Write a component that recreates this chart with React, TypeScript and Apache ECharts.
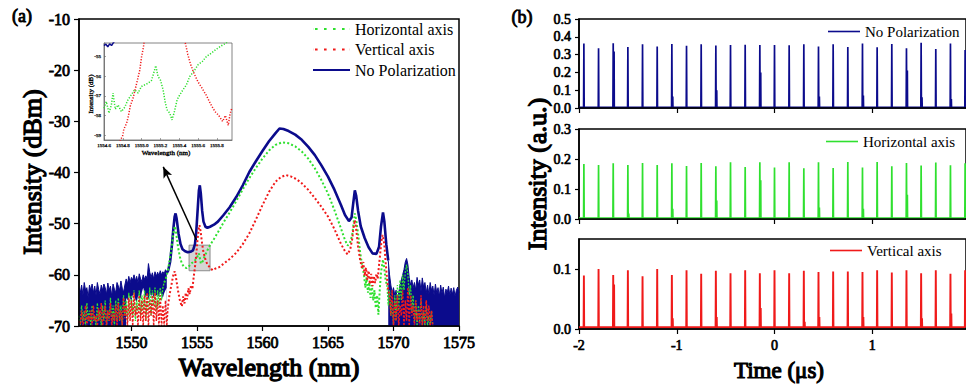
import React, { useEffect, useRef } from "react";
import * as echarts from "echarts";

const FONT = "Liberation Serif, serif";
const BLUE = "#0b0b8c";
const GREEN = "#2fe02f";
const RED = "#f01a1a";

// ---------- panel (a): optical spectrum ----------
const wavelengthTicks = [1550, 1555, 1560, 1565, 1570, 1575];
const noiseStep = 0.1; // nm between noisy OSA samples

const blueLeftStart = 1546.0;
const blueLeftUpper = [
  -62.5, -63.5, -62, -64, -61.5, -63, -62.5, -64.5, -62, -63,
  -61.8, -63.5, -62.2, -64, -61.5, -62.8, -63.8, -62, -63, -61.8,
  -62.5, -63.8, -61.6, -63, -62.2, -64.2, -61.8, -62.8, -63.5, -61.5,
  -62.2, -63, -61.2, -62.6, -63.4, -62, -60.8, -61.8, -60.3, -61.5,
  -60.5, -61, -60, -61.2, -60.3, -61.5, -59.8, -60.8, -61.3, -60,
  -60.9, -60.2, -60.8, -57.8, -59.5, -60.5, -59.6, -60.8, -59.4, -60.3,
  -59.5, -60.2, -59.2, -60, -59.4, -59.8, -59, -59.6,
];
const blueLowerStart = 1549.6;
const blueLeftLower = [
  -64.5, -65, -63.8, -64.6, -65.2, -64, -63.6, -64.8, -65.4, -64.2,
  -63.9, -64.7, -63.4, -62.5, -63.6, -64.5, -63.8, -64.9, -63.5, -64.2,
  -63.7, -64.6, -63.4, -64.1, -63.8, -64.4, -63.2, -63.9, -64.5, -63.6, -63, -62.5,
];
const blueRightStart = 1569.6;
const blueRightUpper = [
  -57.2, -60, -62, -63.5, -62.5, -64, -63, -65, -63.5, -62,
  -61, -60, -59, -57.5, -56.8, -58, -60.5, -62, -61, -62.5,
  -61.5, -63, -60.5, -62, -61, -63.2, -60.6, -62.4, -61.5, -63.5,
  -62, -63.8, -61.5, -63, -62.2, -64, -61.8, -63.5, -62.5, -64.2,
  -62, -63.6, -62.4, -64.5, -62.8, -63.5, -62.2, -64, -62.6, -63.8,
  -62.5, -64.2, -63, -62.4, -63.5,
];
const blueMain = [
  [1552.7, -59.6], [1552.8, -59.2], [1552.95, -57.5], [1553.1, -54], [1553.2, -51], [1553.3, -48.6], [1553.37, -48],
  [1553.45, -49], [1553.6, -52], [1553.75, -54], [1553.9, -55], [1554.1, -55.4], [1554.3, -55.6],
  [1554.5, -55.5], [1554.7, -55.2], [1554.85, -54], [1554.95, -51.5], [1555.05, -47.5], [1555.15, -43.5],
  [1555.22, -42.5], [1555.3, -44.2], [1555.4, -47.5], [1555.5, -49.6], [1555.65, -50.6], [1555.8, -50.8],
  [1556.0, -50.6], [1556.3, -50.2], [1556.6, -49.6], [1557.0, -48.4], [1557.5, -46.8], [1558.0, -44.8],
  [1558.5, -42.5], [1559.0, -39.9], [1559.5, -37.8], [1560.0, -35.8], [1560.5, -33.9], [1561.0, -32.3],
  [1561.3, -31.4], [1561.6, -31.5], [1562.0, -31.9], [1562.5, -32.6], [1563.0, -33.6], [1563.5, -35],
  [1564.0, -36.6], [1564.5, -38.6], [1565.0, -40.8], [1565.5, -43.4], [1566.0, -46.4], [1566.3, -48.3],
  [1566.6, -49.5], [1566.8, -48.8], [1566.93, -46], [1567.05, -43.5], [1567.15, -44.5], [1567.3, -47.5],
  [1567.5, -50.5], [1567.8, -52.8], [1568.1, -54.6], [1568.4, -55.8], [1568.7, -55.9], [1568.9, -54.5],
  [1569.05, -50.5], [1569.2, -47.8], [1569.3, -49.5], [1569.45, -54], [1569.6, -57.2],
];

const greenLeftStart = 1546.0;
const greenLeftNoise = [
  -68, -70, -66, -69, -67, -70, -65.5, -69, -67, -70,
  -66, -69, -68, -70, -65.5, -69, -67, -70, -66, -69,
  -65, -70, -67, -69, -64.5, -69, -66, -70, -65, -69,
  -64.5, -69, -66, -70, -64, -68, -65, -69, -63.5, -68,
  -64, -68, -63, -69, -65, -67, -63, -68, -64, -67,
  -63, -69, -64, -67, -62.5, -68, -63, -66, -62.5, -67,
  -63, -66, -62.5, -65, -62.5, -61.5,
];
const greenMain = [
  [1552.5, -61.5], [1552.6, -61], [1552.75, -59.5], [1552.9, -57.5], [1553.05, -55], [1553.2, -52], [1553.3, -50.5],
  [1553.4, -51.5], [1553.55, -54.5], [1553.7, -56.5], [1553.85, -57.8], [1554.0, -58.4], [1554.2, -58.7],
  [1554.4, -58.3], [1554.6, -57.7], [1554.8, -57.4], [1555.0, -56.6], [1555.15, -55.8], [1555.3, -57.8],
  [1555.45, -57.3], [1555.6, -56.3], [1555.8, -55.2], [1556.0, -54.2], [1556.3, -53], [1556.6, -51.7],
  [1557.0, -49.9], [1557.5, -47.8], [1558.0, -45.6], [1558.5, -43.3], [1559.0, -41.1], [1559.5, -39.1],
  [1560.0, -37.3], [1560.5, -35.7], [1561.0, -34.6], [1561.5, -34.1], [1562.0, -34.3], [1562.5, -34.9],
  [1563.0, -35.9], [1563.5, -37.3], [1564.0, -39.2], [1564.5, -41.5], [1565.0, -44.1], [1565.5, -47.4],
  [1566.0, -51], [1566.3, -53.2], [1566.5, -54.3], [1566.7, -53.6], [1566.85, -52.2], [1566.95, -50],
  [1567.05, -48], [1567.15, -49.2], [1567.3, -52], [1567.45, -55.5], [1567.6, -58], [1567.75, -60],
  [1567.85, -62.5], [1567.95, -60.5], [1568.05, -63.5], [1568.15, -61.5], [1568.25, -64.5], [1568.35, -62],
  [1568.45, -65], [1568.55, -63], [1568.65, -66.5], [1568.75, -64], [1568.85, -67.8], [1568.95, -63],
  [1569.05, -59.5], [1569.2, -57], [1569.3, -58.8], [1569.4, -61], [1569.5, -62],
];
const greenRightStart = 1569.5;
const greenRightNoise = [
  -62, -66, -63, -68, -65, -70, -64, -69, -62, -67,
  -61, -65, -60, -63, -59.5, -58, -60, -64, -62, -67,
  -64, -69, -65, -70, -66, -69, -65, -70, -67, -70,
  -66, -70, -68, -70, -67, -70,
];

const redLeftStart = 1546.0;
const redLeftNoise = [
  -69, -70, -67, -70, -68.5, -66, -70, -68, -69, -67,
  -70, -66, -69, -68, -70, -66.5, -69, -65.5, -70, -67.5,
  -66, -70, -67, -69, -65.5, -70, -67.5, -69, -66, -70,
  -65.5, -69, -67, -70, -64.5, -68.5, -66, -70, -64.5, -69,
  -65, -70, -63.5, -68, -66, -70, -64, -69, -65, -70,
  -64, -69, -63.5, -70, -65, -68, -64, -70, -63.5, -69,
  -65, -70, -64, -70, -66, -70, -65, -70, -66,
];
const redMain = [
  [1552.8, -66], [1552.9, -64], [1553.05, -62], [1553.2, -60], [1553.3, -59.3], [1553.4, -60.5], [1553.55, -63],
  [1553.7, -65], [1553.85, -66.2], [1553.95, -64.2], [1554.05, -65.6], [1554.15, -63.5], [1554.25, -64.8],
  [1554.35, -62.6], [1554.45, -63.8], [1554.55, -62], [1554.65, -62.8], [1554.75, -60.5], [1554.85, -58.5],
  [1554.95, -56], [1555.05, -53], [1555.15, -50.8], [1555.2, -50.3], [1555.28, -51.5], [1555.4, -54],
  [1555.5, -55.6], [1555.65, -57], [1555.8, -58], [1556.0, -58.6], [1556.2, -59.1], [1556.4, -58.8],
  [1556.7, -58.5], [1557.0, -57.9], [1557.5, -56.9], [1558.0, -55.7], [1558.5, -54], [1559.0, -51.9],
  [1559.5, -49.2], [1560.0, -46.4], [1560.5, -43.8], [1561.0, -41.8], [1561.4, -40.9], [1561.8, -40.5],
  [1562.2, -40.8], [1562.6, -41.3], [1563.0, -42.1], [1563.5, -43.4], [1564.0, -45], [1564.5, -46.7],
  [1565.0, -48.6], [1565.5, -51.1], [1566.0, -54], [1566.3, -55.4], [1566.5, -56], [1566.7, -55],
  [1566.85, -53], [1566.95, -50.8], [1567.05, -49.3], [1567.15, -51], [1567.3, -54.5], [1567.45, -57],
  [1567.6, -58.8], [1567.7, -57.5], [1567.8, -60.2], [1567.9, -58.6], [1568.0, -61], [1568.1, -59.2],
  [1568.2, -61.8], [1568.3, -59.8], [1568.4, -62.2], [1568.5, -60.2], [1568.6, -61.6], [1568.7, -59.8],
  [1568.8, -60.8], [1568.9, -58], [1569.0, -55.5], [1569.1, -53], [1569.17, -52.2], [1569.3, -54],
  [1569.4, -57.5], [1569.5, -60.5], [1569.6, -63], [1569.7, -64],
];
const redRightStart = 1569.7;
const redRightNoise = [
  -64, -68, -63, -70, -65, -69, -64, -70, -66, -68,
  -63, -70, -65, -69, -62.5, -70, -64, -68, -66, -70,
  -65, -69, -67, -70, -64, -70, -66, -70, -65, -69,
  -66, -70, -67, -70,
];

// inset (zoom of the shaded box)
const insetXTicks = [1554.6, 1554.8, 1555.0, 1555.2, 1555.4, 1555.6, 1555.8];
const insetYTicks = [-59, -58, -57, -56, -55];
const insetBlue = [
  [1554.6, -54.45], [1554.62, -54.38], [1554.64, -54.52], [1554.66, -54.36], [1554.68, -54.45],
  [1554.7, -54.3], [1554.72, -54.2],
];
const insetGreen = [
  [1554.6, -57.63], [1554.625, -57.29], [1554.653, -57.88], [1554.678, -57.46], [1554.696, -56.86],
  [1554.72, -57.68], [1554.749, -57.46], [1554.784, -57.8], [1554.82, -57.58], [1554.855, -57.2],
  [1554.89, -56.95], [1554.926, -56.69], [1554.962, -56.86], [1554.997, -56.53], [1555.033, -56.44],
  [1555.068, -56.36], [1555.104, -56.22], [1555.128, -55.85], [1555.15, -55.47], [1555.174, -56.02],
  [1555.199, -56.19], [1555.228, -56.69], [1555.249, -57.29], [1555.27, -57.71], [1555.299, -57.88],
  [1555.323, -58.22], [1555.348, -57.8], [1555.377, -57.2], [1555.405, -56.95], [1555.44, -56.69],
  [1555.476, -56.44], [1555.511, -56.02], [1555.554, -55.76], [1555.6, -55.42], [1555.646, -55.25],
  [1555.689, -55.0], [1555.742, -54.83], [1555.795, -54.63], [1555.848, -54.46], [1555.884, -54.36],
  [1555.92, -54.24],
];
const insetRed = [
  [1554.77, -59.3], [1554.8, -59.0], [1554.81, -58.7], [1554.84, -58.4], [1554.86, -58.0],
  [1554.88, -57.5], [1554.91, -57.1], [1554.93, -56.7], [1554.96, -56.1], [1554.98, -55.7],
  [1555.0, -55.0], [1555.02, -54.5], [1555.05, -53.5], [1555.2, -50.3], [1555.4, -52.5],
  [1555.45, -54.0], [1555.49, -54.9], [1555.52, -55.4], [1555.56, -55.9], [1555.6, -56.3],
  [1555.64, -56.6], [1555.69, -57.0], [1555.73, -57.4], [1555.78, -57.8], [1555.82, -58.0],
  [1555.86, -58.3], [1555.89, -58.0], [1555.92, -58.5], [1555.94, -57.9], [1555.96, -57.6],
];
const zoomBoxFrom = [1554.4, -54.2];
const zoomBoxTo = [1556.0, -59.2];
const arrowFrom = [1554.97, -53.2];
const arrowTo = [1552.43, -38.9];

// ---------- panel (b): pulse trains ----------
const timeTicks = [-2, -1, 0, 1];
const yTicksTop = [0, 0.1, 0.2, 0.3, 0.4, 0.5];
const yTicksMid = [0, 0.1, 0.2, 0.3];
const yTicksBot = [0, 0.1];
const pulseTimes = [
  -1.95, -1.8, -1.65, -1.5, -1.35, -1.2, -1.05, -0.9, -0.75, -0.6, -0.45, -0.3, -0.15, 0,
  0.15, 0.3, 0.45, 0.6, 0.75, 0.9, 1.05, 1.2, 1.35, 1.5, 1.65, 1.8, 1.95,
];
const noPolPeaks = [
  0.362, 0.336, 0.364, 0.343, 0.358, 0.345, 0.36, 0.349, 0.358, 0.351, 0.354, 0.356, 0.354, 0.354,
  0.353, 0.358, 0.345, 0.358, 0.343, 0.362, 0.341, 0.36, 0.336, 0.366, 0.332, 0.362, 0.326,
];
const noPolSecond = [
  0, 0, 0.317, 0, 0, 0, 0.065, 0, 0, 0.1, 0, 0, 0.2, 0,
  0, 0, 0.065, 0, 0, 0.07, 0, 0, 0.21, 0.06, 0, 0.05, 0,
];
const horizPeaks = [
  0.183, 0.18, 0.186, 0.18, 0.187, 0.18, 0.186, 0.177, 0.187, 0.176, 0.189, 0.173, 0.189, 0.172,
  0.189, 0.169, 0.189, 0.17, 0.19, 0.172, 0.19, 0.176, 0.187, 0.178, 0.188, 0.179, 0.186,
];
const horizSecond = [
  0, 0, 0, 0.018, 0, 0, 0.034, 0, 0, 0.062, 0, 0, 0.129, 0,
  0, 0, 0.038, 0, 0, 0.034, 0, 0, 0.081, 0, 0, 0, 0,
];
const vertPeaks = [
  0.089, 0.1, 0.09, 0.098, 0.088, 0.1, 0.09, 0.098, 0.092, 0.097, 0.093, 0.098, 0.093, 0.098,
  0.093, 0.097, 0.095, 0.096, 0.096, 0.095, 0.098, 0.094, 0.098, 0.093, 0.098, 0.092, 0.098,
];
const vertSecond = [
  0, 0, 0.074, 0, 0, 0, 0.018, 0, 0, 0.02, 0, 0, 0.035, 0,
  0, 0.012, 0.02, 0, 0, 0.02, 0, 0, 0, 0.018, 0, 0.026, 0,
];

// ---------- helpers ----------
const seq = (start: number, vals: number[]) =>
  vals.map((v, i) => [Math.round((start + i * noiseStep) * 100) / 100, v]);

const pulseTrain = (peaks: number[], second: number[], base: number) => {
  const pts: number[][] = [[-2, base]];
  pulseTimes.forEach((t, i) => {
    pts.push([t - 0.003, base], [t, peaks[i]], [t + 0.003, base]);
    if (second[i] > 0) pts.push([t + 0.007, base], [t + 0.009, second[i]], [t + 0.011, base]);
  });
  pts.push([1.959, base]);
  return pts;
};

// the serif face has no bold cut here, so bold is imitated with a thin outline
const tickLabel = (size: number) => ({
  fontFamily: FONT,
  fontWeight: "normal" as const,
  fontSize: size,
  color: "#000",
  textBorderColor: "#000",
  textBorderWidth: size * 0.05,
});

const blackLine = { show: true, onZero: false, lineStyle: { color: "#000", width: 1.5 } };
const DOTS = "path://M0,0h0.15v2h-0.15zM2,0h2.6v2h-2.6zM11,0h2.6v2h-2.6zM20,0h2.6v2h-2.6zM29,0h2.6v2h-2.6zM36.85,0h0.15v2h-0.15z";

const lineSeries = (name: string, xi: number, data: any[], lineStyle: any, extra: any = {}) => ({
  name,
  type: "line",
  xAxisIndex: xi,
  yAxisIndex: xi,
  data,
  symbol: "none",
  lineStyle,
  itemStyle: { color: lineStyle.color },
  ...extra,
});

const title = (text: string, x: number, y: number, size: number, rotate = false) => ({
  type: "text",
  x,
  y,
  rotation: rotate ? Math.PI / 2 : 0,
  style: {
    text,
    fontFamily: FONT,
    fontWeight: "normal",
    fontSize: size,
    fill: "#000",
    stroke: "#000",
    lineWidth: size * 0.05,
    align: "center",
    verticalAlign: "middle",
  },
});

export default function App() {
  const ref = useRef<HTMLDivElement>(null);

  useEffect(() => {
    if (!ref.current) return;
    const chart = echarts.init(ref.current, undefined, { renderer: "svg" });

    const rightX = (k: number) => ({
      gridIndex: k,
      type: "value",
      min: -2,
      max: 1.959,
      z: 5,
      axisLine: blackLine,
      axisTick: { show: true, customValues: timeTicks, length: 5, lineStyle: { color: "#000", width: 1.2 } },
      axisLabel: {
        show: k === 4,
        customValues: timeTicks,
        margin: 9,
        formatter: (v: number) => String(v),
        ...tickLabel(14),
      },
      splitLine: { show: false },
    });
    const rightY = (k: number, max: number, ticks: number[]) => ({
      gridIndex: k,
      type: "value",
      min: 0,
      max,
      axisLine: blackLine,
      axisTick: { show: true, customValues: ticks, length: 4, lineStyle: { color: "#000", width: 1.2 } },
      axisLabel: {
        customValues: ticks,
        margin: 8,
        formatter: (v: number) => v.toFixed(1),
        ...tickLabel(14),
      },
      splitLine: { show: false },
    });

    const rightLegend = (name: string, left: number, top: number) => ({
      show: true,
      left,
      top,
      padding: 0,
      itemWidth: 32,
      itemHeight: 1.6,
      icon: "rect",
      selectedMode: false,
      formatter: (n: string) => n.replace(" (b)", ""),
      textStyle: { fontFamily: FONT, fontSize: 15, color: "#000", lineHeight: 15 },
      data: [name],
    });

    const option: any = {
      animation: false,
      backgroundColor: "#fff",
      textStyle: { fontFamily: FONT },
      grid: [
        { left: 79, top: 19, width: 380, height: 307, show: true, borderColor: "#000", borderWidth: 1.5, backgroundColor: "transparent" },
        { left: 104, top: 43, width: 128, height: 97, show: true, borderColor: "#666", borderWidth: 0.8, backgroundColor: "#fff" },
        { left: 579, top: 19, width: 388, height: 89, show: true, borderColor: "#000", borderWidth: 1.5 },
        { left: 579, top: 129, width: 388, height: 90, show: true, borderColor: "#000", borderWidth: 1.5 },
        { left: 579, top: 239, width: 388, height: 90, show: true, borderColor: "#000", borderWidth: 1.5 },
      ],
      xAxis: [
        {
          gridIndex: 0,
          type: "value",
          min: 1546,
          max: 1575,
          z: 5,
          axisLine: blackLine,
          axisTick: { show: true, customValues: wavelengthTicks, length: 5, lineStyle: { color: "#000", width: 1.2 } },
          axisLabel: { customValues: wavelengthTicks, margin: 8, formatter: (v: number) => String(v), ...tickLabel(16) },
          splitLine: { show: false },
        },
        {
          gridIndex: 1,
          type: "value",
          min: 1554.6,
          max: 1555.96,
          axisLine: { show: true, onZero: false, lineStyle: { color: "#666", width: 0.8 } },
          axisTick: { show: true, inside: true, customValues: insetXTicks, length: 2, lineStyle: { color: "#666", width: 0.6 } },
          axisLabel: { customValues: insetXTicks, margin: 3, formatter: (v: number) => v.toFixed(1), ...tickLabel(5) },
          splitLine: { show: false },
        },
        rightX(2),
        rightX(3),
        rightX(4),
      ],
      yAxis: [
        {
          gridIndex: 0,
          type: "value",
          min: -70,
          max: -10,
          interval: 10,
          z: 5,
          axisLine: blackLine,
          axisTick: { show: true, length: 5, lineStyle: { color: "#000", width: 1.2 } },
          axisLabel: { margin: 9, ...tickLabel(16) },
          splitLine: { show: false },
        },
        {
          gridIndex: 1,
          type: "value",
          min: -59.24,
          max: -54.32,
          axisLine: { show: true, onZero: false, lineStyle: { color: "#666", width: 0.8 } },
          axisTick: { show: true, inside: true, customValues: insetYTicks, length: 2, lineStyle: { color: "#666", width: 0.6 } },
          axisLabel: { customValues: insetYTicks, margin: 3, ...tickLabel(5) },
          splitLine: { show: false },
        },
        rightY(2, 0.5, yTicksTop),
        rightY(3, 0.3, yTicksMid),
        rightY(4, 0.15, yTicksBot),
      ],
      legend: [
        {
          show: true,
          orient: "vertical",
          left: 313,
          top: 21,
          padding: 0,
          itemWidth: 37,
          itemHeight: 2,
          itemGap: 4.5,
          selectedMode: false,
          textStyle: { fontFamily: FONT, fontSize: 16, color: "#000", lineHeight: 15 },
          data: [
            { name: "Horizontal axis", icon: DOTS },
            { name: "Vertical axis", icon: DOTS },
            { name: "No Polarization", icon: "rect" },
          ],
        },
        rightLegend("No Polarization (b)", 828, 24),
        rightLegend("Horizontal axis (b)", 826, 134),
        rightLegend("Vertical axis (b)", 830, 243),
      ],
      series: [
        lineSeries("noise floor left", 0, seq(blueLeftStart, blueLeftUpper), { color: BLUE, width: 1 }, {
          silent: true,
          areaStyle: { color: BLUE, opacity: 1, origin: "start" },
        }),
        lineSeries("noise floor gap", 0, seq(blueLowerStart, blueLeftLower), { color: "#fff", width: 0 }, {
          silent: true,
          areaStyle: { color: "#fff", opacity: 1, origin: "start" },
        }),
        lineSeries("noise floor right", 0, seq(blueRightStart, blueRightUpper), { color: BLUE, width: 1 }, {
          silent: true,
          areaStyle: { color: BLUE, opacity: 1, origin: "start" },
        }),
        lineSeries("No Polarization", 0, blueMain, { color: BLUE, width: 2.6 }),
        lineSeries("green noise left", 0, seq(greenLeftStart, greenLeftNoise), { color: GREEN, width: 1.3, type: [2, 1.4] }, { silent: true }),
        lineSeries("green noise right", 0, seq(greenRightStart, greenRightNoise), { color: GREEN, width: 1.3, type: [2, 1.4] }, { silent: true }),
        lineSeries("Horizontal axis", 0, greenMain, { color: GREEN, width: 2, type: [2, 2.2] }),
        lineSeries("red noise left", 0, seq(redLeftStart, redLeftNoise), { color: RED, width: 1.5, type: [2.2, 1.6] }, { silent: true }),
        lineSeries("red noise right", 0, seq(redRightStart, redRightNoise), { color: RED, width: 1.5, type: [2.2, 1.6] }, { silent: true }),
        lineSeries("Vertical axis", 0, redMain, { color: RED, width: 2, type: [2, 2.2] }),
        {
          name: "markers",
          type: "line",
          xAxisIndex: 0,
          yAxisIndex: 0,
          data: [],
          z: 10,
          silent: true,
          markArea: {
            silent: true,
            itemStyle: { color: "rgba(190,190,190,0.65)", borderColor: "#8c8c8c", borderWidth: 1 },
            data: [[{ coord: zoomBoxFrom }, { coord: zoomBoxTo }]],
          },
          markLine: {
            silent: true,
            symbol: ["none", "arrow"],
            symbolSize: [7, 11],
            label: { show: false },
            lineStyle: { color: "#000", width: 1.5, type: "solid" },
            data: [[{ coord: arrowFrom }, { coord: arrowTo }]],
          },
        },
        lineSeries("inset blue", 1, insetBlue, { color: BLUE, width: 1.5 }),
        lineSeries("inset green", 1, insetGreen, { color: GREEN, width: 1.5, type: [1.2, 1.6] }),
        lineSeries("inset red", 1, insetRed, { color: RED, width: 1.5, type: [1.2, 1.6] }),
        lineSeries("No Polarization (b)", 2, pulseTrain(noPolPeaks, noPolSecond, 0.004), { color: BLUE, width: 1.7 }),
        lineSeries("Horizontal axis (b)", 3, pulseTrain(horizPeaks, horizSecond, 0.003), { color: GREEN, width: 1.7 }),
        lineSeries("Vertical axis (b)", 4, pulseTrain(vertPeaks, vertSecond, 0.003), { color: RED, width: 1.9 }),
      ],
      graphic: {
        elements: [
          title("(a)", 22, 16, 18),
          title("(b)", 522, 17, 18),
          title("Intensity (dBm)", 32, 172, 26, true),
          title("Wavelength (nm)", 269, 367, 26),
          title("Intensity (a.u.)", 537, 174, 26, true),
          title("Time (μs)", 779, 370, 23),
          title("Intensity (dB)", 91, 94, 7, true),
          title("Wavelength (nm)", 166, 153, 7),
        ],
      },
    };

    chart.setOption(option);
    return () => chart.dispose();
  }, []);

  return (
    <div
      ref={ref}
      style={{ position: "fixed", left: 0, top: 0, width: 966, height: 387, background: "#fff" }}
    />
  );
}
